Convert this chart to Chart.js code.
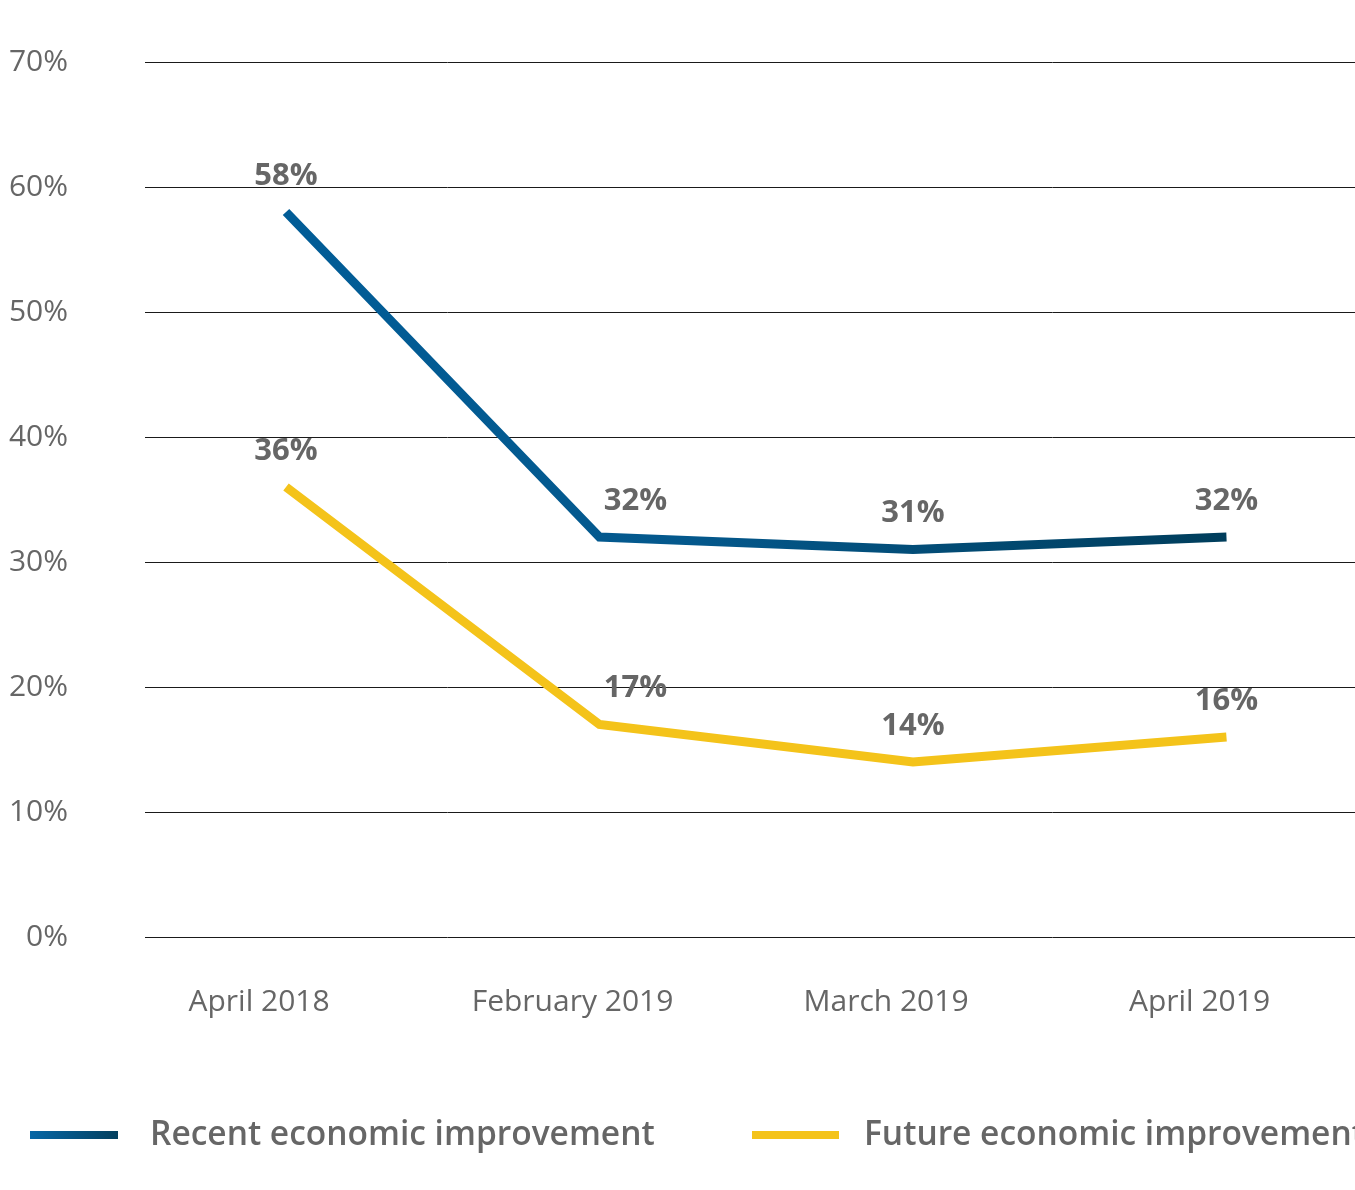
<!DOCTYPE html>
<html lang="en">
<head>
  <meta charset="UTF-8" />
  <title>Economic improvement</title>
  <script src="https://cdn.jsdelivr.net/npm/chart.js"></script>
  <style>
    body {
      margin: 0;
      padding: 0;
      background: #fff;
    }
    #chartBox {
      width: 1355px;
      height: 1190px;
      overflow: hidden;
    }
  </style>
</head>
<body>
  <div id="chartBox">
    <canvas id="trendChart" width="1355" height="1190"></canvas>
  </div>

  <script>
    const periods = ['April 2018', 'February 2019', 'March 2019', 'April 2019'];
    const recentValues = [58, 32, 31, 32];
    const futureValues = [36, 17, 14, 16];
    const yTicks = [0, 10, 20, 30, 40, 50, 60, 70];

    const FONT = '"Open Sans", "Noto Sans", sans-serif';
    const GREY = '#666666';

    // label offsets next to each point (px), Feb label sits to the right
    const labelDx = [0, 36, 0, 0];

    const pointLabels = {
      id: 'pointLabels',
      afterDatasetsDraw(chart) {
        const ctx = chart.ctx;
        ctx.save();
        ctx.font = 'bold 31px ' + FONT;
        ctx.fillStyle = GREY;
        ctx.textAlign = 'center';
        ctx.textBaseline = 'middle';
        chart.data.datasets.forEach((ds, d) => {
          chart.getDatasetMeta(d).data.forEach((pt, i) => {
            ctx.fillText(ds.data[i].y + '%', pt.x + labelDx[i], pt.y - 36);
          });
        });
        ctx.restore();
      }
    };

    const bottomLegend = {
      id: 'bottomLegend',
      afterDraw(chart) {
        const ctx = chart.ctx;
        const y = 1135;
        ctx.save();
        const g = ctx.createLinearGradient(30, 0, 118, 0);
        g.addColorStop(0, '#0767a6');
        g.addColorStop(1, '#03405f');
        ctx.fillStyle = g;
        ctx.fillRect(30, y - 4, 88, 8);
        ctx.fillStyle = '#f4c31a';
        ctx.fillRect(752, y - 4, 87, 8);

        ctx.font = '600 33.5px ' + FONT;
        ctx.fillStyle = GREY;
        ctx.textAlign = 'left';
        ctx.textBaseline = 'middle';
        ctx.fillText(chart.data.datasets[0].label, 150, y);
        ctx.fillText(chart.data.datasets[1].label, 864, y);
        ctx.restore();
      }
    };

    function blueGradient(context) {
      const area = context.chart.chartArea;
      if (!area) return '#005c98';
      const g = context.chart.ctx.createLinearGradient(area.left, 0, area.right, 0);
      g.addColorStop(0, '#005e9b');
      g.addColorStop(0.45, '#04588c');
      g.addColorStop(0.9, '#003d5b');
      g.addColorStop(1, '#003a55');
      return g;
    }

    const toPoints = vals => vals.map((v, i) => ({ x: i, y: v }));

    new Chart('trendChart', {
      type: 'line',
      data: {
        datasets: [
          {
            label: 'Recent economic improvement',
            data: toPoints(recentValues),
            borderColor: blueGradient,
            borderWidth: 9,
            borderJoinStyle: 'miter',
            pointRadius: 0,
            tension: 0
          },
          {
            label: 'Future economic improvement',
            data: toPoints(futureValues),
            borderColor: '#f4c31a',
            borderWidth: 9,
            borderJoinStyle: 'miter',
            pointRadius: 0,
            tension: 0
          }
        ]
      },
      options: {
        responsive: false,
        animation: false,
        layout: { padding: { top: 62, right: 0, left: 0, bottom: 0 } },
        plugins: {
          legend: { display: false },
          tooltip: { enabled: false }
        },
        scales: {
          x: {
            type: 'linear',
            min: -0.4498,
            max: 3.41,
            grid: { display: false },
            border: { display: false },
            afterBuildTicks(scale) {
              scale.ticks = periods.map((p, i) => ({ value: i - 0.086 }));
            },
            afterFit(scale) {
              scale.height = 1190 - 937;
              scale.paddingLeft = 0;
              scale.paddingRight = 0;
            },
            ticks: {
              autoSkip: false,
              maxRotation: 0,
              padding: 39,
              color: GREY,
              font: { family: FONT, size: 30 },
              callback: value => periods[Math.round(value)]
            }
          },
          y: {
            min: 0,
            max: 70,
            afterBuildTicks(scale) {
              scale.ticks = yTicks.map(v => ({ value: v }));
            },
            afterFit(scale) {
              // tick padding is only meant to push labels left, not to inset the plot
              scale.width = 145;
              scale.paddingTop = 0;
              scale.paddingBottom = 0;
            },
            grid: {
              color: '#1a1a1a',
              lineWidth: 1,
              drawTicks: false
            },
            border: { display: false },
            ticks: {
              padding: 77,
              color: GREY,
              font: { family: FONT, size: 30 },
              callback: v => v + '%'
            }
          }
        }
      },
      plugins: [pointLabels, bottomLegend]
    });
  </script>
</body>
</html>
